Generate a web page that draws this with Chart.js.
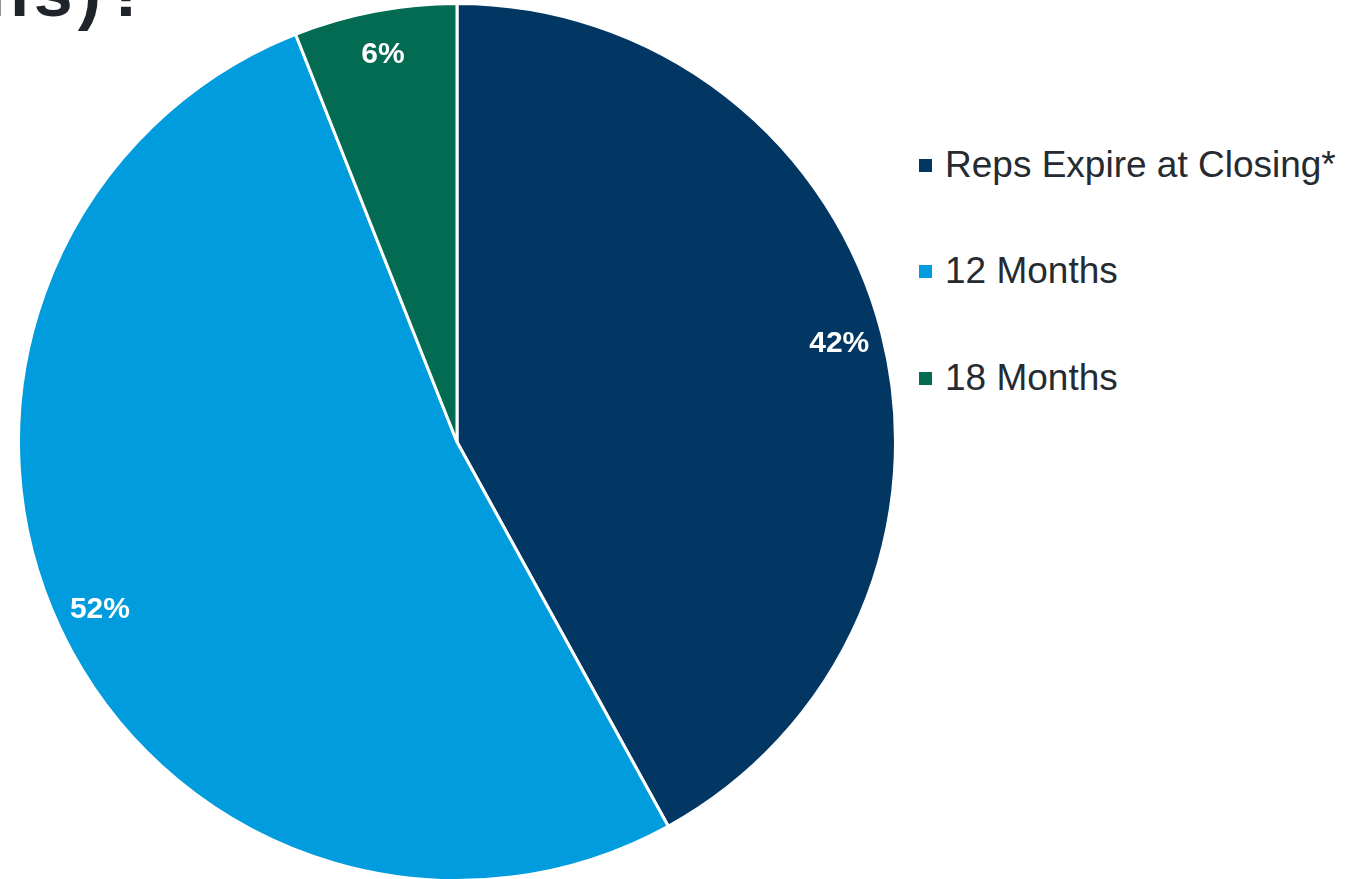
<!DOCTYPE html>
<html>
<head>
<meta charset="utf-8">
<script src="https://cdn.jsdelivr.net/npm/chart.js@4"></script>
<style>
  body { margin: 0; width: 1348px; height: 879px; overflow: hidden; background: #fff; font-family: "Liberation Sans", Arial, sans-serif; }
  #title { position: absolute; left: -14px; top: -43px; font-size: 70px; line-height: 1; letter-spacing: 5px; font-weight: bold; color: #1f242b; white-space: nowrap; }
  #pieBox { position: absolute; left: 17px; top: 2px; width: 880px; height: 880px; }
  #legend { position: absolute; left: 919px; top: 0; }
  .item { position: absolute; left: 0; display: flex; align-items: center; white-space: nowrap; font-size: 37px; color: #262b31; }
  .item i { display: inline-block; width: 13px; height: 13px; margin-right: 13px; }
</style>
</head>
<body>
<div id="title">ns)?</div>
<div id="pieBox"><canvas id="pie"></canvas></div>
<div id="legend"></div>
<script>
const labels = ['Reps Expire at Closing*', '12 Months', '18 Months'];
const shares = [42, 52, 6];
const colors = ['#023763', '#009cdd', '#026b52'];

// legend on the right, one row per slice
const legend = document.getElementById('legend');
const rowTops = [144, 250, 357];
labels.forEach((lbl, i) => {
  const row = document.createElement('div');
  row.className = 'item';
  row.style.top = rowTops[i] + 'px';
  row.innerHTML = '<i style="background:' + colors[i] + '"></i>' + lbl;
  legend.appendChild(row);
});

// percentage text near the outer edge of each slice
const sliceLabels = {
  id: 'sliceLabels',
  afterDatasetsDraw(chart) {
    const ctx = chart.ctx;
    const meta = chart.getDatasetMeta(0);
    ctx.save();
    ctx.fillStyle = '#ffffff';
    ctx.font = 'bold 30px "Liberation Sans", Arial, sans-serif';
    ctx.textAlign = 'center';
    ctx.textBaseline = 'middle';
    meta.data.forEach((arc, i) => {
      const p = arc.getProps(['x', 'y', 'startAngle', 'endAngle', 'outerRadius'], true);
      const mid = (p.startAngle + p.endAngle) / 2;
      const r = p.outerRadius * 0.9;
      ctx.fillText(shares[i] + '%', p.x + Math.cos(mid) * r, p.y + Math.sin(mid) * r);
    });
    ctx.restore();
  }
};

new Chart(document.getElementById('pie'), {
  type: 'pie',
  data: {
    labels: labels,
    datasets: [{
      data: shares,
      backgroundColor: colors,
      borderColor: '#ffffff',
      borderWidth: 3
    }]
  },
  options: {
    responsive: true,
    maintainAspectRatio: false,
    animation: false,
    layout: { padding: 0 },
    plugins: {
      legend: { display: false },
      tooltip: { enabled: false }
    }
  },
  plugins: [sliceLabels]
});
</script>
</body>
</html>
